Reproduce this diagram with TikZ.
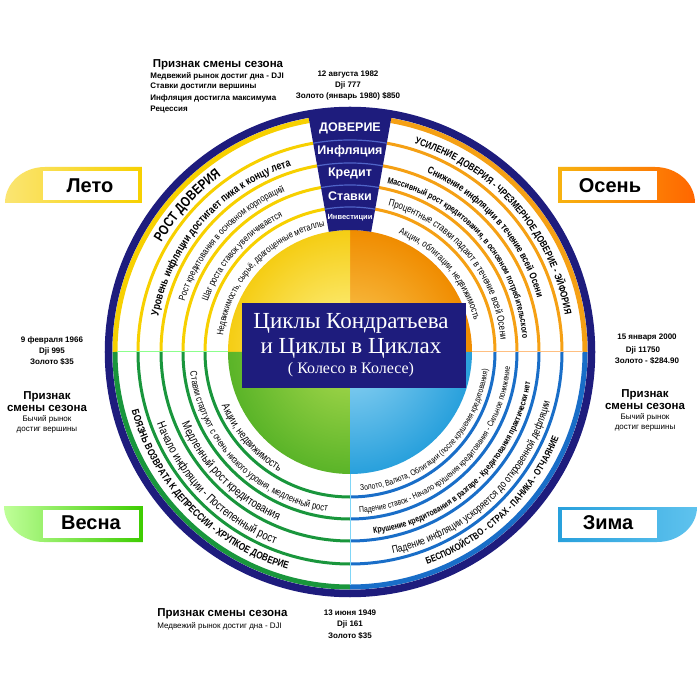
\documentclass[tikz,border=0pt]{standalone}
\usepackage{fontspec}
\setmainfont{Liberation Sans}
\newfontfamily\titlefont{Liberation Serif}
\newfontfamily\narrowfont[FakeStretch=0.8]{Liberation Sans}
\usetikzlibrary{decorations.text}

\definecolor{navy}{RGB}{30,28,125}
\definecolor{bandline}{RGB}{80,100,200}
\definecolor{sumyel}{RGB}{247,208,0}
\definecolor{autorg}{RGB}{245,160,20}
\definecolor{sprgrn}{RGB}{25,150,60}
\definecolor{winblu}{RGB}{25,110,200}
\definecolor{winbox}{RGB}{40,160,220}
\definecolor{winlt}{RGB}{95,195,238}

\tikzset{every picture/.style={line width=0.75pt},
    season/.style={inner sep=0,font=\bfseries\fontsize{20}{20}\selectfont},
    sign/.style={inner sep=0,font=\bfseries\fontsize{11.5}{12}\selectfont},
    annot/.style={inner sep=0,font=\bfseries\fontsize{8}{9}\selectfont},
    note/.style={inner sep=0,font=\fontsize{8}{9}\selectfont},
    bandtxt/.style={inner sep=0,text=white,font=\bfseries\fontsize{12.5}{13}\selectfont},
    titletxt/.style={inner sep=0,text=white,font=\titlefont\fontsize{23}{23}\selectfont}}

\newcommand\rr[1]{\narrowfont\fontsize{#1}{#1}\selectfont}
\newcommand\rb[1]{\narrowfont\bfseries\fontsize{#1}{#1}\selectfont}
% mid angle, half span (negative: counterclockwise), radius, font, text
\newcommand\ringtext[5]{\path[decorate,decoration={text along path,text align=center,text={|#4|#5}}]
    ({#1+#2}:#3) arc[start angle={#1+#2},end angle={#1-#2},radius=#3];}

\begin{document}
\begin{tikzpicture}[x=1pt,y=1pt]
    \useasboundingbox[fill=white] (-350,-348) rectangle (350,352);
    % inner disc
    \foreach \s/\ci/\co in {0/{rgb,255:red,250;green,205;blue,90}/{rgb,255:red,240;green,140;blue,0},
        90/{rgb,255:red,255;green,246;blue,150}/{rgb,255:red,245;green,205;blue,20},
        180/{rgb,255:red,175;green,220;blue,80}/{rgb,255:red,90;green,180;blue,40},
        270/{rgb,255:red,150;green,215;blue,245}/{rgb,255:red,40;green,160;blue,220}}{
        \begin{scope}
            \clip (0,0) -- (\s:122) arc[start angle=\s,end angle=\s+90,radius=122] -- cycle;
            \shade[inner color=\ci,outer color=\co] (0,0) circle (122);
        \end{scope}
    }
    % rings
    \foreach \s/\e/\c in {100/180/sumyel,0/80/autorg,180/270/sprgrn,270/360/winblu}{
        \foreach \r in {145,167,189,212}
            \draw[\c,line width=3] (\s:\r) arc[start angle=\s,end angle=\e,radius=\r];
        \draw[\c,line width=5] (\s:235) arc[start angle=\s,end angle=\e,radius=235];
    }
    \draw[navy,line width=7.5] (0,0) circle (241.5);
    \draw[green!45!white,line width=1] (-122,0) -- (-233,0);
    \draw[orange!50!white,line width=1] (122,0) -- (233,0);
    \draw[cyan!50!white,line width=1] (0,-122) -- (0,-233);
    % top band
    \fill[navy] (80:122) arc[start angle=80,end angle=100,radius=122] -- (100:241)
        arc[start angle=100,end angle=80,radius=241] -- cycle;
    \foreach \r in {145,167,189,212}
        \draw[bandline,line width=1.2] (80:\r) arc[start angle=80,end angle=100,radius=\r];
    \node[bandtxt] (dov) at (0,224) {ДОВЕРИЕ};
    \node[bandtxt] (infl) at (0,201) {Инфляция};
    \node[bandtxt] (kred) at (0,178.5) {Кредит};
    \node[bandtxt] (stav) at (0,156) {Ставки};
    \node[bandtxt,font=\bfseries\fontsize{7.5}{8}\selectfont] (inv) at (0,134) {Инвестиции};
    % title
    \node[fill=navy,draw=navy,minimum width=223,minimum height=84,inner sep=0] (title) at (3.5,7) {};
    \node[titletxt] (t1) at (1,29) {Циклы Кондратьева};
    \node[titletxt] (t2) at (1,4) {и Циклы в Циклах};
    \node[titletxt,font=\titlefont\fontsize{16}{16}\selectfont] (t3) at (1,-18) {( Колесо в Колесе)};
    % summer
    \ringtext{138}{23}{218}{\rb{14}}{РОСТ ДОВЕРИЯ}
    \ringtext{138.5}{43.5}{195}{\rb{11}}{Уровень инфляции достигает пика к концу лета}
    \ringtext{137.5}{36.5}{173}{\rr{9.5}}{Рост кредитования в основном корпораций}
    \ringtext{138.5}{32.5}{151}{\rr{9.5}}{Шаг роста ставок увеличивается}
    \ringtext{137}{45}{128}{\rr{9.3}}{Недвижимость, сырьё, драгоценные металлы}
    % autumn
    \ringtext{41.3}{42.7}{218}{\rb{10}}{УСИЛЕНИЕ ДОВЕРИЯ - ЧРЕЗМЕРНОЕ ДОВЕРИЕ - ЭЙФОРИЯ}
    \ringtext{41.5}{35.5}{195}{\rb{10}}{Снижение инфляции в течение всей Осени}
    \ringtext{41}{47}{173}{\rb{8.8}}{Массивный рост кредитования, в основном потребительского}
    \ringtext{40}{46}{151}{\rr{10}}{Процентные ставки падают в течение всей Осени}
    \ringtext{41}{37}{128}{\rr{9.6}}{Акции, облигации, недвижимость}
    % spring
    \ringtext{224.5}{-41.5}{226}{\rb{10.2}}{БОЯЗНЬ ВОЗВРАТА К ДЕПРЕССИИ - ХРУПКОЕ ДОВЕРИЕ}
    \ringtext{224.5}{-34.5}{206}{\rr{12}}{Начало инфляции - Постепенный рост}
    \ringtext{225}{-32}{183}{\rr{12}}{Медленный рост кредитования}
    \ringtext{224.5}{-49.5}{161}{\rr{9.7}}{Ставки стартуют с очень низкого уровня, медленный рост}
    \ringtext{221}{-30}{139}{\rr{11}}{Акции, недвижимость}
    % winter
    \ringtext{313.75}{-35.75}{226}{\rb{9.6}}{БЕСПОКОЙСТВО - СТРАХ - ПАНИКА - ОТЧАЯНИЕ}
    \ringtext{314}{-42}{206}{\rr{10.6}}{Падение инфляции ускоряется до откровенной дефляции}
    \ringtext{314}{-49}{183}{\rb{8.7}}{Крушение кредитования в разгаре - Кредитования практически нет}
    \ringtext{314}{-52}{161}{\rr{8.5}}{Падение ставок - Начало крушения кредитования - Сильное понижение}
    \ringtext{313.5}{-50.5}{139}{\rr{8.4}}{Золото, Валюта, Облигации (после крушения кредитования)}
    % season boxes
    \shade[left color=sumyel!55,right color=sumyel] (-345,149) arc[start angle=180,end angle=90,x radius=40,y radius=36]
        -- (-208,185) -- (-208,149) -- cycle;
    \fill[white] (-307,152) rectangle (-212,181);
    \node[season] (leto) at (-260,166.5) {Лето};
    \shade[left color=autorg!80!yellow,right color=orange!80!red] (345,149) arc[start angle=0,end angle=90,x radius=40,y radius=36]
        -- (208,185) -- (208,149) -- cycle;
    \fill[white] (212,152) rectangle (307,181);
    \node[season] (osen) at (260,166.5) {Осень};
    \shade[left color=green!50!lime!40!white,right color=green!60!lime!80!black] (-346,-154) -- (-207,-154) -- (-207,-190)
        -- (-306,-190) arc[start angle=270,end angle=180,x radius=40,y radius=36] -- cycle;
    \fill[white] (-307,-158) rectangle (-211,-186);
    \node[season] (vesna) at (-259,-171) {Весна};
    \shade[left color=winbox,right color=winlt] (347,-155) -- (208,-155) -- (208,-190)
        -- (307,-190) arc[start angle=270,end angle=360,x radius=40,y radius=35] -- cycle;
    \fill[white] (212,-158) rectangle (307,-186);
    \node[season] (zima) at (258,-171) {Зима};
    % notes
    \node[sign] (sgn1) at (-132,287) {Признак смены сезона};
    \node[annot,anchor=west] (s1a) at (-200,276) {Медвежий рынок достиг дна - DJI};
    \node[annot,anchor=west] (s1b) at (-200,265) {Ставки достигли вершины};
    \node[annot,anchor=west] (s1c) at (-200,254) {Инфляция достигла максимума};
    \node[annot,anchor=west] (s1d) at (-200,242) {Рецессия};
    \node[annot] (d1a) at (-2,277) {12 августа 1982};
    \node[annot] (d1b) at (-2,267) {Dji 777};
    \node[annot] (d1c) at (-2,256) {Золото (январь 1980) \$850};
    \node[annot] (d2a) at (-298,12) {9 февраля 1966};
    \node[annot] (d2b) at (-298,1) {Dji 995};
    \node[annot] (d2c) at (-298,-10) {Золото \$35};
    \node[sign] (sgn2a) at (-303,-45) {Признак};
    \node[sign] (sgn2b) at (-303,-56) {смены сезона};
    \node[note] (s2a) at (-303,-67) {Бычий рынок};
    \node[note] (s2b) at (-303,-78) {достиг вершины};
    \node[annot] (d3a) at (297,14) {15 января 2000};
    \node[annot] (d3b) at (293,2) {Dji 11750};
    \node[annot] (d3c) at (297,-9) {Золото - \$284.90};
    \node[sign] (sgn3a) at (295,-43) {Признак};
    \node[sign] (sgn3b) at (295,-54) {смены сезона};
    \node[note] (s3a) at (295,-65) {Бычий рынок};
    \node[note] (s3b) at (295,-76) {достиг вершины};
    \node[sign,anchor=west] (sgn4) at (-193,-262) {Признак смены сезона};
    \node[note,anchor=west] (s4a) at (-193,-274) {Медвежий рынок достиг дна - DJI};
    \node[annot] (d4a) at (0,-261) {13 июня 1949};
    \node[annot] (d4b) at (0,-272) {Dji 161};
    \node[annot] (d4c) at (0,-284) {Золото \$35};
\end{tikzpicture}
\end{document}
